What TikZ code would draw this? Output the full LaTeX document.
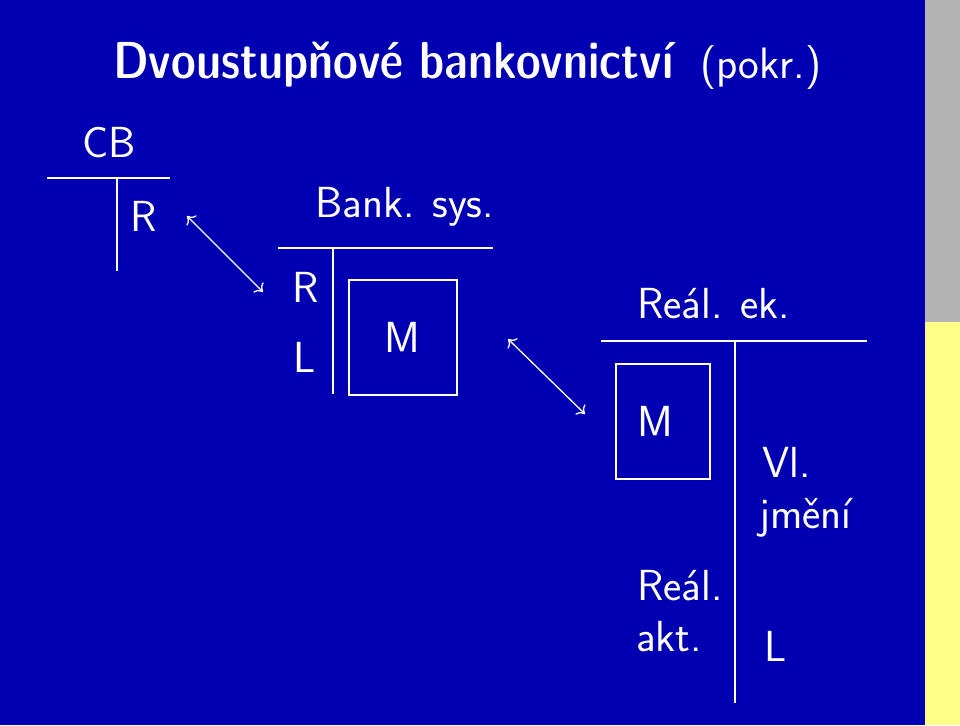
\documentclass[tikz,border=0pt]{standalone}
\usetikzlibrary{arrows.meta}
\definecolor{slideblue}{RGB}{0,0,178}
\definecolor{sidegray}{RGB}{179,179,179}
\definecolor{sideyellow}{RGB}{255,255,136}
\tikzset{
  lbl/.style={text=white, inner sep=0pt, font=\sffamily\fontsize{43.5}{52}\selectfont},
  ttl/.style={text=white, inner sep=0pt, font=\sffamily\fontseries{sbc}\fontsize{52}{60}\selectfont},
  tline/.style={draw=white, line width=1.8pt},
  mbox/.style={draw=white, line width=1.8pt},
  dblarrow/.style={draw=white, line width=1.3pt, {To[length=7pt,width=14pt]}-{To[length=7pt,width=14pt]}}
}
\begin{document}
\begin{tikzpicture}[x=1pt,y=-1pt]
\useasboundingbox (0,0) rectangle (960,725);
\fill[slideblue] (0,0) rectangle (925,725);
\fill[sidegray] (925,0) rectangle (960,322);
\fill[sideyellow] (925,322) rectangle (960,725);

% title
\node[ttl, anchor=base west] (title) at (113,78) {Dvoustupňové bankovnictví};
\node[lbl, anchor=base west, font=\sffamily\fontsize{44}{52}\selectfont] (pokr) at (700,78) {(pokr.)};

% CB account
\node[lbl, anchor=base] (cb) at (109,157) {CB};
\coordinate (cbl) at (47,178);
\coordinate (cbr) at (170,178);
\coordinate (cbt) at (117,178);
\coordinate (cbb) at (117,271);
\draw[tline] (cbl) -- (cbr);
\draw[tline] (cbt) -- (cbb);
\node[lbl, anchor=base] (r1) at (144,231) {R};

% arrow 1
\coordinate (a1s) at (187,216);
\coordinate (a1e) at (263,292);
\draw[dblarrow] (a1s) -- (a1e);

% Bank. sys. account
\node[lbl, anchor=base west] (bank) at (315,217) {Bank. sys.};
\coordinate (bl) at (278,248);
\coordinate (br) at (493,248);
\coordinate (bt) at (333,248);
\coordinate (bb) at (333,394);
\draw[tline] (bl) -- (br);
\draw[tline] (bt) -- (bb);
\node[lbl, anchor=base] (r2) at (306,302) {R};
\node[lbl, anchor=base] (l2) at (305,372) {L};
\node[mbox, minimum width=108pt, minimum height=115pt, anchor=north west] (m1box) at (348,279) {};
\node[lbl, anchor=base] (m1) at (402,352) {M};

% arrow 2
\coordinate (a2s) at (508,339);
\coordinate (a2e) at (585,414);
\draw[dblarrow] (a2s) -- (a2e);

% Real. ek. account
\node[lbl, anchor=base west] (real) at (637,318) {Reál. ek.};
\coordinate (rl) at (601,341);
\coordinate (rr) at (867,341);
\coordinate (rt) at (735,341);
\coordinate (rb) at (735,703);
\draw[tline] (rl) -- (rr);
\draw[tline] (rt) -- (rb);
\node[mbox, minimum width=94pt, minimum height=115pt, anchor=north west] (m2box) at (615,363) {};
\node[lbl, anchor=base] (m2) at (655,436) {M};
\node[lbl, anchor=base west] (vl) at (762,477) {Vl.};
\node[lbl, anchor=base west] (jm) at (759,528) {jmění};
\node[lbl, anchor=base west] (ra) at (637,600) {Reál.};
\node[lbl, anchor=base west] (ak) at (636,651) {akt.};
\node[lbl, anchor=base west] (l3) at (764,661) {L};
\end{tikzpicture}
\end{document}
